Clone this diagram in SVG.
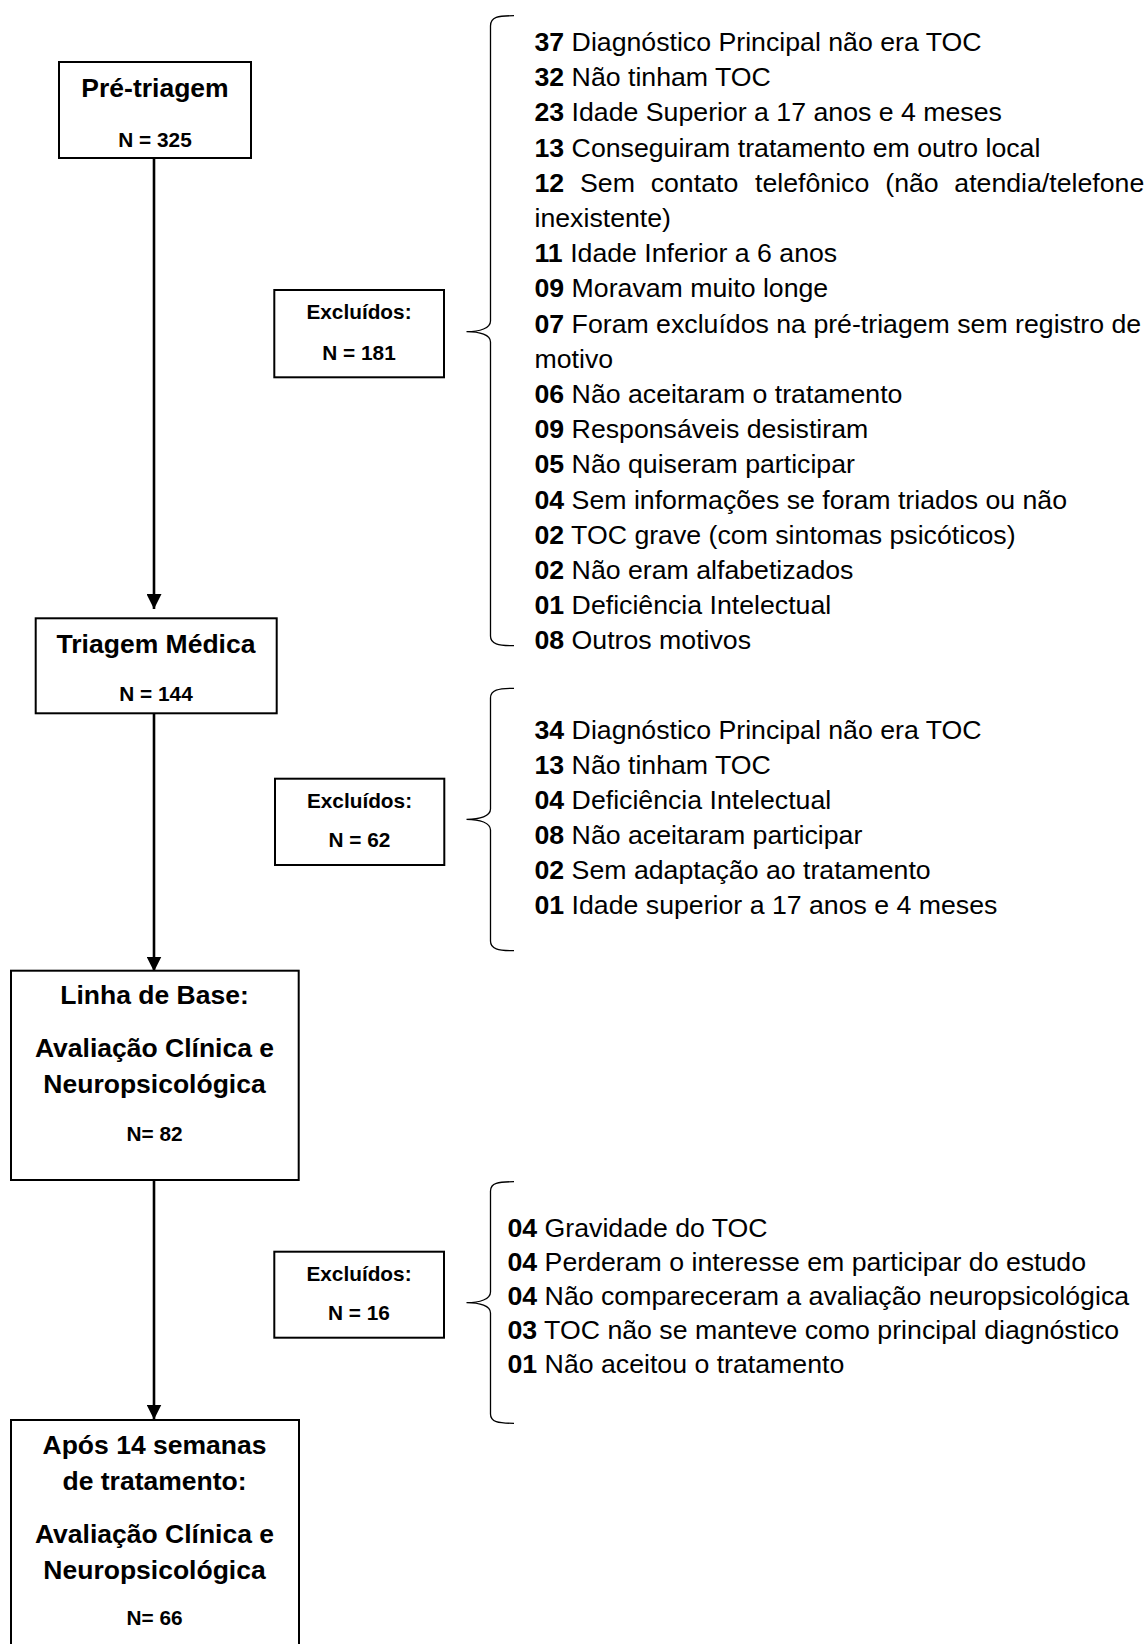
<svg xmlns="http://www.w3.org/2000/svg" width="1147" height="1644" viewBox="0 0 1147 1644">
<style>
.box{fill:#fff;stroke:#000;stroke-width:2}
.t{font-family:"Liberation Sans",Arial,sans-serif;font-weight:bold;font-size:26.5px;text-anchor:middle;fill:#000}
.n{font-family:"Liberation Sans",Arial,sans-serif;font-weight:bold;font-size:20.8px;text-anchor:middle;fill:#000}
.l{font-family:"Liberation Sans",Arial,sans-serif;font-size:26.7px;fill:#000}
.l tspan.b{font-weight:bold}
.brace{fill:none;stroke:#000;stroke-width:1.3}
.conn{fill:none;stroke:#000;stroke-width:2.6}
</style>
<defs>
<marker id="ah" markerUnits="userSpaceOnUse" markerWidth="16" markerHeight="15" viewBox="0 0 16 15" refX="15" refY="7.5" orient="auto">
<path d="M0,0 L15,7.5 L0,15 z" fill="#000"/>
</marker>
</defs>
<rect width="1147" height="1644" fill="#fff"/>

<g id="connectors">
<line class="conn" x1="154" y1="158" x2="154" y2="609" marker-end="url(#ah)"/>
<line class="conn" x1="154" y1="713" x2="154" y2="971.5" marker-end="url(#ah)"/>
<line class="conn" x1="154" y1="1180" x2="154" y2="1419.5" marker-end="url(#ah)"/>
</g>

<g id="pretriagem">
<rect class="box" x="59" y="62" width="192" height="96"/>
<text class="t" x="155" y="97">Pré-triagem</text>
<text class="n" x="155" y="146.5">N = 325</text>
</g>

<g id="triagem">
<rect class="box" x="35.7" y="618.3" width="241" height="95"/>
<text class="t" x="156" y="652.7">Triagem Médica</text>
<text class="n" x="156" y="700.7">N = 144</text>
</g>

<g id="linhabase">
<rect class="box" x="11" y="970.7" width="287.7" height="209.3"/>
<text class="t" x="154.5" y="1004.3">Linha de Base:</text>
<text class="t" x="154.5" y="1057.3">Avaliação Clínica e</text>
<text class="t" x="154.5" y="1093.3">Neuropsicológica</text>
<text class="n" x="154.5" y="1141">N= 82</text>
</g>

<g id="apos14">
<rect class="box" x="11" y="1420" width="288" height="250"/>
<text class="t" x="154.5" y="1454">Após 14 semanas</text>
<text class="t" x="154.5" y="1490">de tratamento:</text>
<text class="t" x="154.5" y="1543">Avaliação Clínica e</text>
<text class="t" x="154.5" y="1578.5">Neuropsicológica</text>
<text class="n" x="154.5" y="1625">N= 66</text>
</g>

<g id="excluidos1">
<rect class="box" x="274.3" y="290" width="169.7" height="87.3"/>
<text class="n" x="359" y="319.3">Excluídos:</text>
<text class="n" x="359" y="360">N = 181</text>
<path class="brace" d="M514,15.7 C498,15.7 490.5,17 490.5,26 L490.5,321 C490.5,328 480,331.7 466.5,331.7 C480,331.7 490.5,335 490.5,342 L490.5,636 C490.5,644 498,645.7 514,645.7"/>
<text class="l" x="534.5" y="51"><tspan class="b">37</tspan> Diagnóstico Principal não era TOC</text>
<text class="l" x="534.5" y="86.2"><tspan class="b">32</tspan> Não tinham TOC</text>
<text class="l" x="534.5" y="121.4"><tspan class="b">23</tspan> Idade Superior a 17 anos e 4 meses</text>
<text class="l" x="534.5" y="156.6"><tspan class="b">13</tspan> Conseguiram tratamento em outro local</text>
<text class="l" y="191.8"><tspan class="b" x="534.5">12</tspan><tspan x="580">Sem</tspan><tspan x="650.7">contato</tspan><tspan x="755">telefônico</tspan><tspan x="885.3">(não</tspan><tspan x="954.3">atendia/telefone</tspan></text>
<text class="l" x="534.5" y="227">inexistente)</text>
<text class="l" x="534.5" y="262.2"><tspan class="b">11</tspan> Idade Inferior a 6 anos</text>
<text class="l" x="534.5" y="297.4"><tspan class="b">09</tspan> Moravam muito longe</text>
<text class="l" x="534.5" y="332.6"><tspan class="b">07</tspan> Foram excluídos na pré-triagem sem registro de</text>
<text class="l" x="534.5" y="367.8">motivo</text>
<text class="l" x="534.5" y="403"><tspan class="b">06</tspan> Não aceitaram o tratamento</text>
<text class="l" x="534.5" y="438.2"><tspan class="b">09</tspan> Responsáveis desistiram</text>
<text class="l" x="534.5" y="473.4"><tspan class="b">05</tspan> Não quiseram participar</text>
<text class="l" x="534.5" y="508.6"><tspan class="b">04</tspan> Sem informações se foram triados ou não</text>
<text class="l" x="534.5" y="543.8"><tspan class="b">02</tspan> TOC grave (com sintomas psicóticos)</text>
<text class="l" x="534.5" y="579"><tspan class="b">02</tspan> Não eram alfabetizados</text>
<text class="l" x="534.5" y="614.2"><tspan class="b">01</tspan> Deficiência Intelectual</text>
<text class="l" x="534.5" y="649.4"><tspan class="b">08</tspan> Outros motivos</text>
</g>

<g id="excluidos2">
<rect class="box" x="275" y="778.7" width="169.3" height="86.3"/>
<text class="n" x="359.5" y="808.3">Excluídos:</text>
<text class="n" x="359.5" y="846.7">N = 62</text>
<path class="brace" d="M514,688.3 C498,688.3 490.5,690 490.5,698 L490.5,809 C490.5,816 480,819.3 466.5,819.3 C480,819.3 490.5,823 490.5,830 L490.5,941 C490.5,949 498,950.7 514,950.7"/>
<text class="l" x="534.5" y="739.3"><tspan class="b">34</tspan> Diagnóstico Principal não era TOC</text>
<text class="l" x="534.5" y="774.3"><tspan class="b">13</tspan> Não tinham TOC</text>
<text class="l" x="534.5" y="809.3"><tspan class="b">04</tspan> Deficiência Intelectual</text>
<text class="l" x="534.5" y="844.3"><tspan class="b">08</tspan> Não aceitaram participar</text>
<text class="l" x="534.5" y="879.3"><tspan class="b">02</tspan> Sem adaptação ao tratamento</text>
<text class="l" x="534.5" y="914.3"><tspan class="b">01</tspan> Idade superior a 17 anos e 4 meses</text>
</g>

<g id="excluidos3">
<rect class="box" x="274.3" y="1251.7" width="169.7" height="86"/>
<text class="n" x="359" y="1280.7">Excluídos:</text>
<text class="n" x="359" y="1320">N = 16</text>
<path class="brace" d="M514,1181.7 C498,1181.7 490.5,1183 490.5,1191 L490.5,1292 C490.5,1299 480,1302.7 466.5,1302.7 C480,1302.7 490.5,1306 490.5,1313 L490.5,1414 C490.5,1422 498,1423.3 514,1423.3"/>
<text class="l" x="507.5" y="1237"><tspan class="b">04</tspan> Gravidade do TOC</text>
<text class="l" x="507.5" y="1271"><tspan class="b">04</tspan> Perderam o interesse em participar do estudo</text>
<text class="l" x="507.5" y="1305"><tspan class="b">04</tspan> Não compareceram a avaliação neuropsicológica</text>
<text class="l" x="507.5" y="1339"><tspan class="b">03</tspan> TOC não se manteve como principal diagnóstico</text>
<text class="l" x="507.5" y="1373"><tspan class="b">01</tspan> Não aceitou o tratamento</text>
</g>
</svg>
